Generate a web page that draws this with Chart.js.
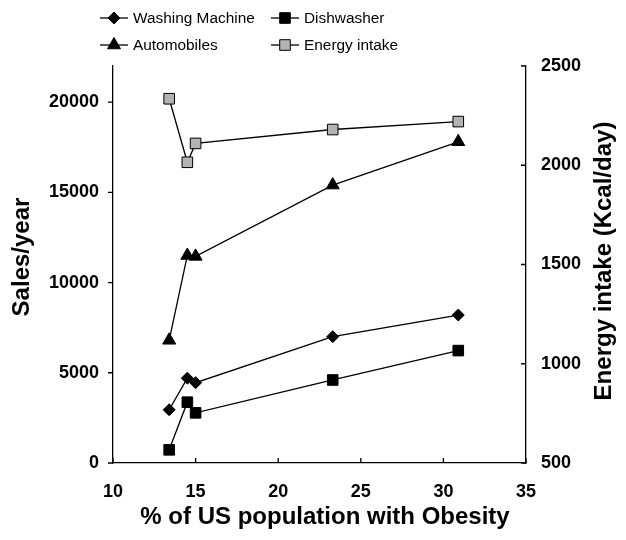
<!DOCTYPE html>
<html>
<head>
<meta charset="utf-8">
<script src="https://cdn.jsdelivr.net/npm/chart.js@4/dist/chart.umd.min.js"></script>
<style>
  body { margin: 0; background: #fff; }
  #wrap { width: 626px; height: 540px; }
</style>
</head>
<body>
<div id="wrap"><canvas id="chart" width="626" height="540"></canvas></div>
<script>
// data
const obesity = [13.4, 14.5, 15.0, 23.3, 30.9];
const washingMachine = [2950, 4700, 4450, 7000, 8200];
const dishwasher = [730, 3370, 2780, 4600, 6230];
const automobiles = [6800, 11500, 11450, 15400, 17800];
const energyIntake = [2335, 2015, 2110, 2180, 2220];

const xTicks = [10, 15, 20, 25, 30, 35];
const salesTicks = [0, 5000, 10000, 15000, 20000];
const energyTicks = [500, 1000, 1500, 2000, 2500];

const FONT = '"Liberation Sans", Arial, sans-serif';

function pts(ys) {
    return obesity.map((x, i) => ({ x: x, y: ys[i] }));
}

function series(label, ys, style, radius, fillColor, axis) {
    return {
        label: label,
        data: pts(ys),
        yAxisID: axis,
        borderColor: '#000',
        borderWidth: 1.3,
        pointStyle: style,
        pointRadius: radius,
        pointHoverRadius: radius,
        pointBackgroundColor: fillColor,
        pointBorderColor: '#000',
        pointBorderWidth: 1,
        tension: 0,
        fill: false
    };
}

function axisTitle(ctx, text, x, y, rot) {
    ctx.save();
    ctx.fillStyle = '#000';
    ctx.font = 'bold 24px ' + FONT;
    ctx.textAlign = 'center';
    ctx.textBaseline = 'middle';
    ctx.translate(x, y);
    ctx.rotate(rot);
    ctx.fillText(text, 0, 0);
    ctx.restore();
}

// small tick marks: left outward, right and bottom inward, plus axis titles
const tickMarks = {
    id: 'tickMarks',
    afterDatasetsDraw(chart) {
        const ctx = chart.ctx, ca = chart.chartArea;
        const sx = chart.scales.x, sy = chart.scales.y, sy1 = chart.scales.y1;
        ctx.save();
        ctx.strokeStyle = '#000';
        ctx.lineWidth = 1.3;
        ctx.beginPath();
        sy.ticks.forEach(t => {
            const py = sy.getPixelForValue(t.value);
            ctx.moveTo(ca.left - 5, py); ctx.lineTo(ca.left, py);
        });
        sy1.ticks.forEach(t => {
            const py = sy1.getPixelForValue(t.value);
            ctx.moveTo(ca.right - 5, py); ctx.lineTo(ca.right, py);
        });
        sx.ticks.forEach(t => {
            const px = sx.getPixelForValue(t.value);
            ctx.moveTo(px, ca.bottom); ctx.lineTo(px, ca.bottom - 5);
        });
        ctx.stroke();
        ctx.restore();

        axisTitle(ctx, 'Sales/year', 22, 257, -Math.PI / 2);
        axisTitle(ctx, 'Energy intake (Kcal/day)', 604, 261, -Math.PI / 2);
        axisTitle(ctx, '% of US population with Obesity', 325, 517, 0);
    }
};

// 2x2 legend with the line running through the marker
const gridLegend = {
    id: 'gridLegend',
    afterDraw(chart) {
        const ctx = chart.ctx;
        const spots = [[100, 18], [271, 18], [100, 45], [271, 45]];
        chart.data.datasets.forEach((ds, i) => {
            const [x, y] = spots[i];
            ctx.save();
            ctx.strokeStyle = '#000';
            ctx.lineWidth = 1.3;
            ctx.beginPath();
            ctx.moveTo(x, y); ctx.lineTo(x + 28, y);
            ctx.stroke();
            ctx.fillStyle = ds.pointBackgroundColor;
            ctx.lineWidth = 1;
            Chart.helpers.drawPoint(ctx, {
                pointStyle: ds.pointStyle, radius: ds.pointRadius, rotation: 0, borderWidth: 1
            }, x + 14, y);
            ctx.fillStyle = '#000';
            ctx.font = '15.4px ' + FONT;
            ctx.textAlign = 'left';
            ctx.textBaseline = 'middle';
            ctx.fillText(ds.label, x + 33, y + 1);
            ctx.restore();
        });
    }
};

const ctx = document.getElementById('chart').getContext('2d');
const chart = new Chart(ctx, {
    type: 'line',
    data: {
        datasets: [
            series('Washing Machine', washingMachine, 'rectRot', 6, '#000', 'y'),
            series('Dishwasher', dishwasher, 'rect', 7.5, '#000', 'y'),
            series('Automobiles', automobiles, 'triangle', 7.5, '#000', 'y'),
            series('Energy intake', energyIntake, 'rect', 7.5, '#b3b3b3', 'y1')
        ]
    },
    options: {
        responsive: false,
        animation: false,
        layout: { padding: { top: 66, left: 0, right: 0, bottom: 0 } },
        plugins: {
            legend: { display: false },
            tooltip: { enabled: false }
        },
        scales: {
            x: {
                type: 'linear',
                min: 10,
                max: 35,
                afterBuildTicks: s => { s.ticks = xTicks.map(v => ({ value: v })); },
                afterFit: s => { s.height = 77; },
                grid: { drawOnChartArea: false, drawTicks: false },
                border: { display: true, color: '#000', width: 1.3 },
                ticks: {
                    padding: 18,
                    color: '#000',
                    font: { family: FONT, size: 18, weight: 'bold' },
                    callback: v => String(v)
                }
            },
            y: {
                position: 'left',
                min: 0,
                max: 22000,
                afterBuildTicks: s => { s.ticks = salesTicks.map(v => ({ value: v })); },
                afterFit: s => { s.width = 113; },
                grid: { drawOnChartArea: false, drawTicks: false },
                border: { display: true, color: '#000', width: 1.3 },
                ticks: {
                    padding: 14,
                    color: '#000',
                    font: { family: FONT, size: 18, weight: 'bold' },
                    callback: v => String(v)
                }
            },
            y1: {
                position: 'right',
                min: 500,
                max: 2500,
                afterBuildTicks: s => { s.ticks = energyTicks.map(v => ({ value: v })); },
                afterFit: s => { s.width = 100; },
                grid: { drawOnChartArea: false, drawTicks: false },
                border: { display: true, color: '#000', width: 1.3 },
                ticks: {
                    padding: 15,
                    color: '#000',
                    font: { family: FONT, size: 18, weight: 'bold' },
                    callback: v => String(v)
                }
            }
        }
    },
    plugins: [tickMarks, gridLegend]
});
</script>
</body>
</html>
